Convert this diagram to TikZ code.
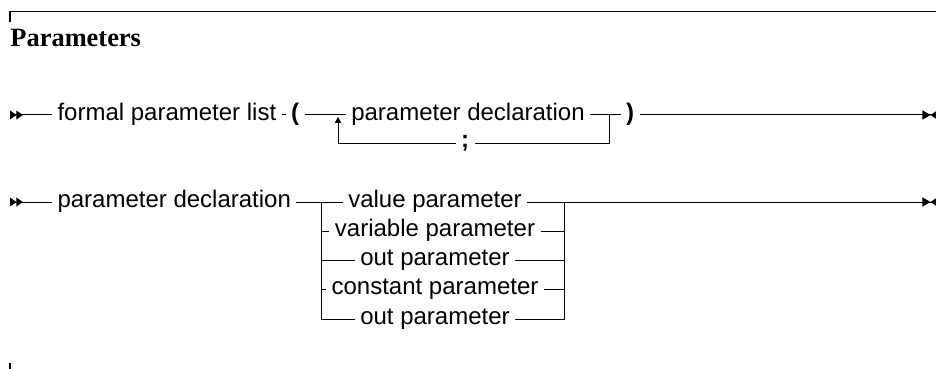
\documentclass[tikz,border=0pt]{standalone}
\usepackage{fontspec}
\setmainfont{Liberation Serif}
\setsansfont{Liberation Sans}
\usetikzlibrary{arrows.meta,positioning}

\begin{document}
\begin{tikzpicture}[x=0.5pt, y=-0.5pt, line width=0.5pt,
  every node/.style={font=\sffamily\fontsize{12}{14}\selectfont},
  tok/.style={inner xsep=2.5pt, inner ysep=0pt, text height=8pt, text depth=3pt},
  sym/.style={tok, font=\sffamily\bfseries\fontsize{12}{14}\selectfont},
  startmark/.style={{Triangle[reversed,length=3.2pt,width=4.4pt]Triangle[reversed,length=3.2pt,width=4.4pt]}-},
  endmark/.style={-{Triangle[length=4pt,width=4.6pt]Triangle[reversed,length=2.8pt,width=3.6pt]}},
  looptip/.style={-{Triangle[length=3pt,width=3.2pt]}, shorten >=1pt}]
  \useasboundingbox (0,0) rectangle (936,369);

  % Frame and title
  \draw[line width=0.65pt] (10,22) -- (10,11.5) -- (936,11.5);
  \draw[line width=0.65pt] (10,363) -- (10,369);
  \node[anchor=base west, inner sep=0pt, font=\rmfamily\bfseries\fontsize{13.2}{15}\selectfont] (title) at (10,46.5) {Parameters};

  % Row 1: formal parameter list
  \coordinate (s1) at (10,115);
  \coordinate (e1) at (936,115);
  \node[tok, anchor=west] (list) at (52,115) {formal parameter list};
  \node[sym] (lpar) at (295,115) {(};
  \node[tok] (pd1) at (468,115) {parameter declaration};
  \node[sym] (rpar) at (630,115) {)};
  \node[sym] (semi) at (465,143) {;};
  \coordinate (j1) at (338,115);
  \coordinate (j2) at (609,115);

  \draw[startmark] (s1) -- (list);
  \draw (list) -- (lpar);
  \draw (lpar) -- (pd1);
  \draw (pd1) -- (rpar);
  \draw[endmark] (rpar) -- (e1);
  \draw (j2) |- (semi);
  \draw[looptip] (semi) -| (j1);

  % Row 2: parameter declaration
  \coordinate (s2) at (10,202);
  \coordinate (e2) at (936,202);
  \node[tok, anchor=west] (pd2) at (52,202) {parameter declaration};
  \foreach \txt [count=\i] in {value parameter, variable parameter, out parameter, constant parameter, out parameter}
    \node[tok] (alt\i) at (435,{202+29.25*(\i-1)}) {\txt};
  \coordinate (altL) at (321,202);
  \coordinate (altR) at (564,202);

  \draw[startmark] (s2) -- (pd2);
  \draw (pd2) -- (alt1);
  \draw[endmark] (alt1) -- (e2);
  \draw (altL) |- (alt5);
  \draw (altR) |- (alt5);
  \foreach \i in {2,3,4} {
    \draw (altL |- alt\i) -- (alt\i);
    \draw (alt\i) -- (altR |- alt\i);
  }
\end{tikzpicture}
\end{document}
